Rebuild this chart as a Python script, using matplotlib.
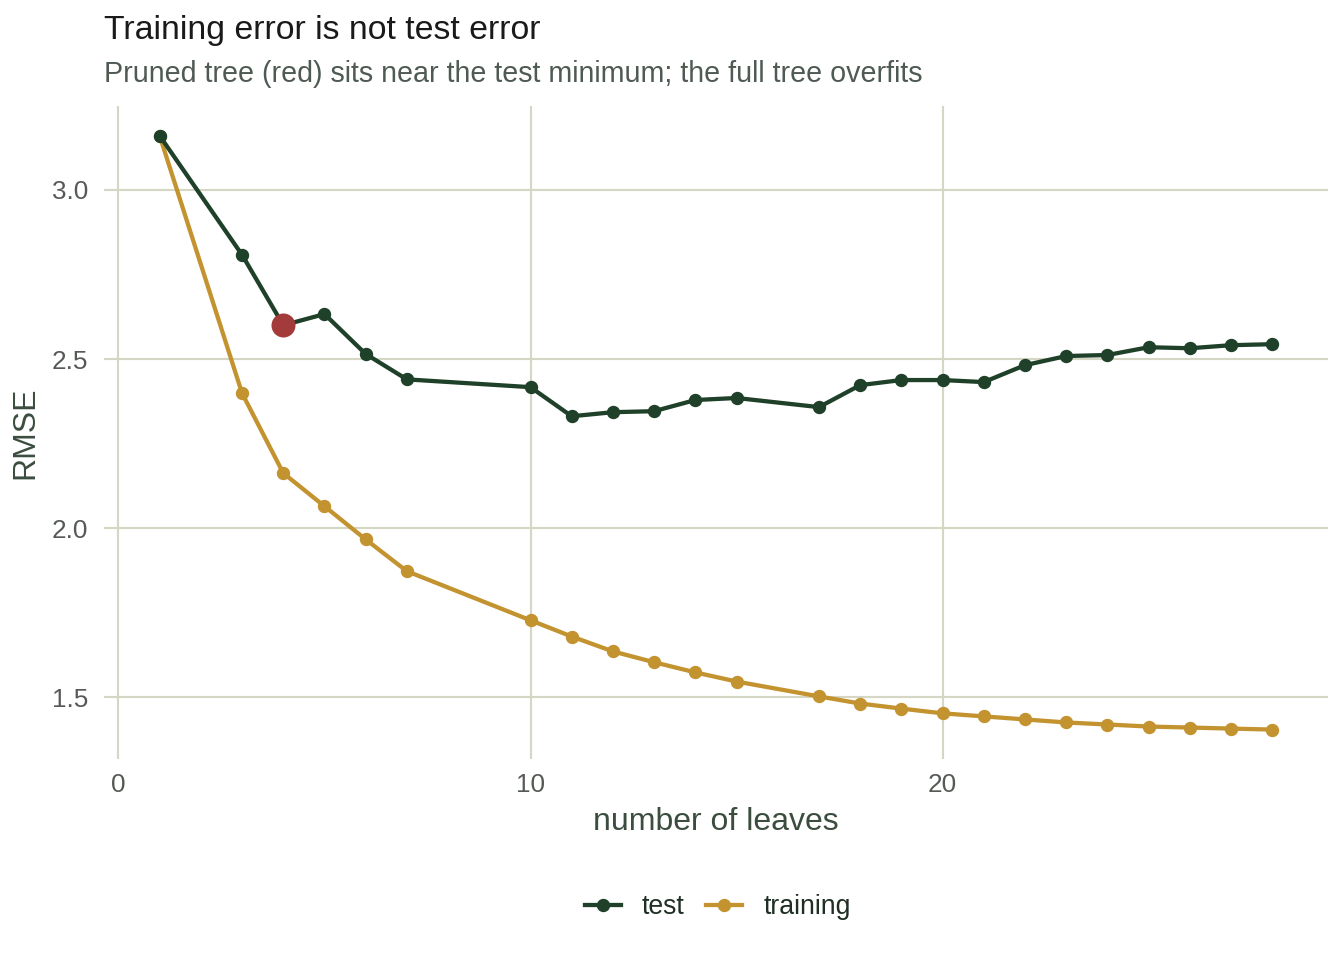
import matplotlib
matplotlib.use("Agg")
import matplotlib.pyplot as plt
from matplotlib.lines import Line2D

# data
leaves = [1, 3, 4, 5, 6, 7, 10, 11, 12, 13, 14, 15, 17, 18, 19, 20, 21, 22, 23, 24, 25, 26, 27, 28]
test_rmse = [3.16, 2.808, 2.60, 2.633, 2.515, 2.44, 2.417, 2.331, 2.343, 2.346, 2.379, 2.385,
             2.358, 2.423, 2.438, 2.438, 2.432, 2.482, 2.509, 2.512, 2.535, 2.532, 2.541, 2.544]
train_rmse = [3.16, 2.399, 2.163, 2.065, 1.967, 1.873, 1.728, 1.680, 1.636, 1.604, 1.574, 1.547,
              1.503, 1.482, 1.467, 1.453, 1.444, 1.435, 1.426, 1.420, 1.414, 1.411, 1.408, 1.405]
pruned_leaves = 4
pruned_rmse = 2.60

x_ticks = [0, 10, 20]
y_ticks = [1.5, 2.0, 2.5, 3.0]

test_color = "#1f4029"
train_color = "#c39330"
red_color = "#a33b3b"
grid_color = "#d6d6c4"

plt.rcParams['font.family'] = ['Liberation Sans', 'DejaVu Sans']

fig = plt.figure(figsize=(7, 5), dpi=192)
ax = fig.add_axes([0.0774, 0.209, 0.9106, 0.6806])

ax.plot(leaves, test_rmse, color=test_color, lw=1.6, marker='o', ms=4, zorder=3)
ax.plot(leaves, train_rmse, color=train_color, lw=1.6, marker='o', ms=4, zorder=2)
ax.plot([pruned_leaves], [pruned_rmse], 'o', color=red_color, ms=8, zorder=4)

ax.set_xlim(-0.35, 29.35)
ax.set_ylim(1.317, 3.248)
ax.set_xticks(x_ticks)
ax.set_yticks(y_ticks)
ax.set_yticklabels([f"{v:.1f}" for v in y_ticks])
ax.grid(True, color=grid_color, lw=0.8)
ax.set_axisbelow(True)
for s in ax.spines.values():
    s.set_visible(False)
ax.tick_params(length=0, labelsize=9.8, labelcolor="#555a55")
ax.tick_params(axis='y', pad=6)
ax.tick_params(axis='x', pad=5)

ax.set_xlabel("number of leaves", fontsize=12, color="#3b4d3e", labelpad=4)
ax.set_ylabel("RMSE", fontsize=12, color="#3b4d3e", labelpad=4)

fig.text(104 / 1344, 1 - 30 / 960, "Training error is not test error",
         fontsize=12.7, color="#1a1a1a", ha='left', va='center')
fig.text(104 / 1344, 1 - 74 / 960, "Pruned tree (red) sits near the test minimum; the full tree overfits",
         fontsize=10.75, color="#4f5a52", ha='left', va='center')

handles = [Line2D([], [], color=test_color, lw=1.6, marker='o', ms=4),
           Line2D([], [], color=train_color, lw=1.6, marker='o', ms=4)]
fig.legend(handles, ["test", "training"], loc='center', bbox_to_anchor=(0.534, 1 - 907 / 960),
           ncol=2, frameon=False, fontsize=10, handlelength=1.35, columnspacing=0.8,
           handletextpad=0.8, labelcolor="#1f2f24")

fig.savefig("out.png", dpi=192, facecolor="white")
